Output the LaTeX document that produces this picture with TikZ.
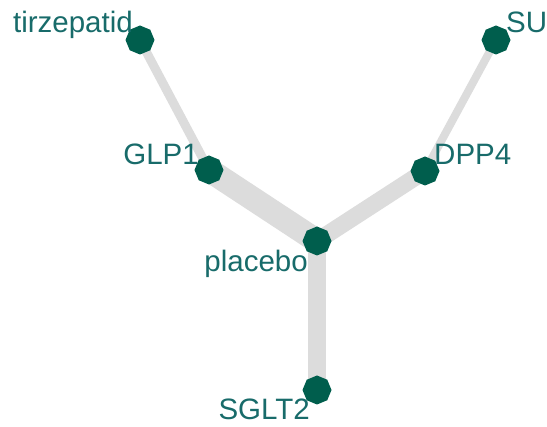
\documentclass[tikz,border=0pt]{standalone}
\usepackage{fontspec}
\setmainfont{Liberation Sans}
\usetikzlibrary{shapes.geometric,backgrounds}
\definecolor{edgegray}{HTML}{DCDCDC}
\definecolor{dotgreen}{HTML}{005E4D}
\definecolor{labteal}{HTML}{186B6A}
\tikzset{
  dot/.style={regular polygon, regular polygon sides=8, shape border rotate=22.5, fill=dotgreen, draw=none, minimum size=29pt, inner sep=0pt},
  lab/.style={text=labteal, font=\fontsize{29.5}{30}\selectfont, inner sep=0pt},
  edge/.style={draw=edgegray, line cap=butt}
}
\begin{document}
\begin{tikzpicture}[x=1pt,y=-1pt]
\useasboundingbox (0,0) rectangle (547,427);
\node[dot] (tirz) at (140,40) {};
\node[dot] (su) at (496,40) {};
\node[dot] (glp) at (209,170) {};
\node[dot] (dpp) at (425,171) {};
\node[dot] (plac) at (317,241) {};
\node[dot] (sglt) at (317,390) {};
\begin{scope}[on background layer]
\draw[edge, line width=9pt] (tirz.center) -- (glp.center);
\draw[edge, line width=8pt] (su.center) -- (dpp.center);
\draw[edge, line width=24pt] (glp.center) -- (plac.center);
\draw[edge, line width=17pt] (dpp.center) -- (plac.center);
\draw[edge, line width=18pt] (plac.center) -- (sglt.center);
\end{scope}
\node[lab, anchor=base east] (ltirz) at (133,33) {tirzepatid};
\node[lab, anchor=base west] (lsu) at (506,33) {SU};
\node[lab, anchor=base east] (lglp) at (199,165) {GLP1};
\node[lab, anchor=base west] (ldpp) at (434,165) {DPP4};
\node[lab, anchor=base east] (lplac) at (308,272) {placebo};
\node[lab, anchor=base east] (lsglt) at (310,420) {SGLT2};
\end{tikzpicture}
\end{document}
